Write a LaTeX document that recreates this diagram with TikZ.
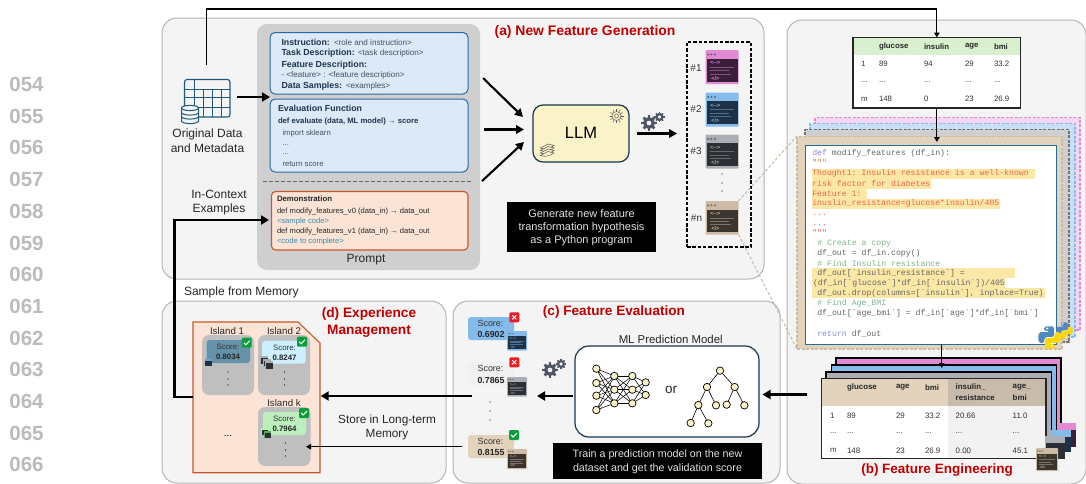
\documentclass[tikz,border=0pt]{standalone}
\usepackage{fontspec}
\setmainfont{Liberation Sans}
\setmonofont{Liberation Mono}
\usetikzlibrary{arrows.meta,calc}
\definecolor{panelfill}{HTML}{F4F4F4}
\definecolor{panelline}{HTML}{B5B5B5}
\definecolor{promptgray}{HTML}{CFCFCF}
\definecolor{boxblue}{HTML}{DCE9F6}
\definecolor{boxblueline}{HTML}{2A6AA3}
\definecolor{boxorange}{HTML}{FBE3D6}
\definecolor{boxorangeline}{HTML}{C55A2B}
\definecolor{navytext}{HTML}{1F3550}
\definecolor{tealtext}{HTML}{3C8CA8}
\definecolor{redtitle}{HTML}{C00000}
\definecolor{llmfill}{HTML}{FAF2C8}
\definecolor{darkline}{HTML}{17374A}
\definecolor{ipink}{HTML}{E28BD4}
\definecolor{iblue}{HTML}{85BBEA}
\definecolor{igray}{HTML}{ABAEB5}
\definecolor{itan}{HTML}{CDBBA5}
\definecolor{dpink}{HTML}{3A1F3B}
\definecolor{dblue}{HTML}{1D3246}
\definecolor{dgray}{HTML}{2C2F33}
\definecolor{dtan}{HTML}{3B3530}
\definecolor{geargray}{HTML}{4F5566}
\definecolor{hilite}{HTML}{FCE8A6}
\definecolor{codered}{HTML}{F0664A}
\definecolor{codekw}{HTML}{8A8AE6}
\definecolor{codegray}{HTML}{666666}
\definecolor{codegreen}{HTML}{7FB58A}
\definecolor{tanfill}{HTML}{E3D3BD}
\definecolor{tanhead}{HTML}{C8BBAB}
\definecolor{tanline}{HTML}{C8B49A}
\definecolor{icondb}{HTML}{1F5A7A}
\definecolor{numgray}{HTML}{BBBBBB}
\definecolor{islandgray}{HTML}{BFBFBF}
\definecolor{okgreen}{HTML}{0B9E3E}
\definecolor{badred}{HTML}{EE1C25}
\definecolor{headgreen}{HTML}{D9F0D0}
\definecolor{cardA}{HTML}{6592A8}
\definecolor{cardB}{HTML}{CDEFFF}
\definecolor{cardC}{HTML}{BDEEBE}
\newcounter{tn}
\tikzset{
  every node/.style={inner sep=0pt,outer sep=0pt},
  fs/.style={font=\fontsize{#1}{#1}\selectfont},
  fb/.style={font=\fontsize{#1}{#1}\selectfont\bfseries},
  fm/.style={font=\fontsize{#1}{#1}\selectfont\ttfamily},
  panel/.style={fill=panelfill,draw=panelline,line width=1pt,rounded corners=15pt},
  tipS/.style={-{Triangle[length=5pt,width=5.5pt]},line width=1.2pt},
  tipM/.style={-{Triangle[length=8pt,width=8.5pt]},line width=2.1pt},
  tipL/.style={-{Triangle[length=8pt,width=9pt]},line width=2.3pt},
  stack/.style={line width=1.2pt,dash pattern=on 3pt off 1.5pt},
  nnode/.style={circle,draw=black,fill=llmfill,line width=.7pt,minimum size=7.4pt},
  blackbox/.style={fill=black},
  tablebox/.style={draw=black!85,line width=1.1pt},
}
\newcommand{\bx}[6]{\node[#6,minimum width={(#4-#2)*1pt},minimum height={(#5-#3)*1pt}] (#1) at ({(#2+#4)/2},{(#3+#5)/2}) {};}
\newcommand{\T}[4][]{\stepcounter{tn}\node[anchor=west,#1] (t\arabic{tn}) at (#2,#3) {#4};}
\newcommand{\C}[4][]{\stepcounter{tn}\node[anchor=center,align=center,#1] (t\arabic{tn}) at (#2,#3) {#4};}
\newcommand{\codeicon}[7]{%
  \bx{#1}{#2}{#3}{#4}{#5}{fill=#6,rounded corners=0.8pt}
  \pgfmathsetmacro\icw{#4-#2}\pgfmathsetmacro\ich{#5-#3}\pgfmathsetmacro\ifs{\ich*0.16}
  \fill[#7] ({#2+0.05*\icw},{#3+0.26*\ich}) rectangle ({#4-0.03*\icw},{#5-0.06*\ich});
  \foreach \dx in {.08,.18,.29}{\fill[#7!55!#6] ({#2+\dx*\icw},{#3+.13*\ich}) circle ({.035*\ich});}
  \foreach \ly/\lw in {.50/.85,.60/.7,.70/.78}{\draw[#6!45!#7,line width=.5pt] ({#2+.15*\icw},{#3+\ly*\ich}) -- ({#2+\lw*\icw},{#3+\ly*\ich});}
  \C[font=\fontsize{\ifs}{\ifs}\selectfont\bfseries,text=#6]{#2+.3*\icw}{#3+.38*\ich}{<{-}{-}>}
  \C[font=\fontsize{\ifs}{\ifs}\selectfont\bfseries,text=#6]{#2+.3*\icw}{#3+.83*\ich}{</>}
}
\newcommand{\miniicon}[7]{%
  \bx{#1}{#2}{#3}{#4}{#5}{fill=#6}
  \pgfmathsetmacro\ich{#5-#3}
  \fill[#7] ({#2+.5},{#3+0.3*\ich}) rectangle ({#4-.5},{#5-.5});
}
\newcommand{\gear}[3]{%
  \draw[geargray,line width={#3*.55pt}] (#1,#2) circle ({#3*.72});
  \foreach \a in {0,45,...,315}{\draw[geargray,line width={#3*.42pt}] ($(#1,#2)+(\a:{#3*.8})$) -- ($(#1,#2)+(\a:{#3*1.28})$);}
}
\newcommand{\badge}[4]{% name x y color
  \node[fill=#4,rounded corners=1.2pt,minimum size=10pt] (#1) at (#2,#3) {};
}
\newcommand{\chk}[3]{\badge{#1}{#2}{#3}{okgreen}\draw[white,line width=1pt] ($(#2,#3)+(-2.8,0)$) -- ($(#2,#3)+(-.8,2)$) -- ($(#2,#3)+(3,-2)$);}
\newcommand{\crs}[3]{\badge{#1}{#2}{#3}{badred}\draw[white,line width=1pt] ($(#2,#3)+(-2,-2)$) -- ($(#2,#3)+(2,2)$) ($(#2,#3)+(-2,2)$) -- ($(#2,#3)+(2,-2)$);}
\newcommand{\vdotsat}[4]{\foreach \yy in {#2,#3,#4}{\fill[black] (#1,\yy) circle (.7);}}
\newcommand{\pyhalf}[1]{\fill[#1,rounded corners=1.6pt] (0.27,0.02)--(0.70,0.02)--(0.70,0.47)--(0.35,0.47)--(0.27,0.55)--(0.27,0.74)--(0.05,0.74)--(0,0.5)--(0.05,0.27)--(0.5,0.27)--(0.5,0.21)--(0.27,0.21)--cycle;}
\newcommand{\pylogo}[3]{\begin{scope}[shift={(#1,#2)},x=#3pt,y=-#3pt]
  \pyhalf{iblue!40!boxblueline}
  \begin{scope}[rotate around={180:(.5,.5)}]\pyhalf{yellow!75!orange}\end{scope}
  \fill[white] (.4,.11) circle (.05) (.6,.89) circle (.05);
\end{scope}}
\begin{document}
\begin{tikzpicture}[x=1pt,y=-1pt]
\useasboundingbox (0,0) rectangle (1086,483);
\fill[white] (0,0) rectangle (1086,483);
% line numbers
\foreach \n [count=\i from 0] in {054,055,056,057,058,059,060,061,062,063,064,065,066}{
  \pgfmathsetmacro\ny{84.5+31.7*\i}
  \C[fb=20.5,text=numgray]{26.5}{\ny}{\n}
}
% panels
\bx{panelA}{162}{18}{764}{279}{panel}
\bx{panelB}{787}{20}{1086}{484}{panel}
\bx{panelD}{162}{301}{446}{483}{panel}
\bx{panelC}{453}{301}{780}{483}{panel}
% ------------- (a)
\bx{prompt}{257}{24}{480}{270}{fill=promptgray,rounded corners=10pt}
\bx{box1}{270}{32.5}{468}{94}{fill=boxblue,draw=boxblueline,line width=1pt,rounded corners=5pt}
\bx{box2}{270}{99}{468}{172}{fill=boxblue,draw=boxblueline,line width=1pt,rounded corners=5pt}
\bx{box3}{271.5}{191.5}{468}{250}{fill=boxorange,draw=boxorangeline,line width=1.1pt,rounded corners=4pt}
\coordinate (dashL) at (263,181); \coordinate (dashR) at (471,181);
\draw[black!60,line width=.6pt,dash pattern=on 3.5pt off 2.5pt] (dashL) -- (dashR);
\T[fb=8.8,text=navytext]{281.5}{42}{Instruction:}
\T[fs=8.1,text=navytext!85]{334}{42.3}{<role and instruction>}
\T[fb=8.8,text=navytext]{281.5}{53}{Task Description:}
\T[fs=8.1,text=navytext!85]{358}{53.3}{<task description>}
\T[fb=8.8,text=navytext]{281.5}{65}{Feature Description:}
\T[fs=8.1,text=navytext!85]{281.5}{75.3}{- <feature> : <feature description>}
\T[fb=8.8,text=navytext]{281.5}{86}{Data Samples:}
\T[fs=8.1,text=navytext!85]{346}{86.3}{<examples>}
\T[fb=8.8,text=navytext]{278}{108}{Evaluation Function}
\T[fb=7.7,text=navytext]{278}{121.5}{def evaluate (data, ML model) → score}
\T[fs=7.7,text=navytext!85]{282.5}{133.5}{import sklearn}
\T[fs=7.7,text=navytext!85]{282.5}{145}{...}
\T[fs=7.7,text=navytext!85]{282.5}{154}{...}
\T[fs=7.7,text=navytext!85]{282.5}{164.5}{return score}
\T[fb=7.8,text=black!85]{277}{199}{Demonstration}
\T[fs=7.6,text=black!85]{277}{211.5}{def modify\_features\_v0 (data\_in) → data\_out}
\T[fs=7.6,text=tealtext]{277}{221.5}{<sample code>}
\T[fs=7.6,text=black!85]{277}{231.5}{def modify\_features\_v1 (data\_in) → data\_out}
\T[fs=7.6,text=tealtext]{277}{241.5}{<code to complete>}
\C[fs=12,text=black!85]{366}{260}{Prompt}
% data icon
\bx{dataicon}{184.5}{79.5}{230}{117}{draw=icondb,line width=1.1pt,rounded corners=2.5pt,fill=panelfill}
\begin{scope}[icondb,line width=1pt]
\draw (194,79.5) -- (194,117);
\draw (184.5,89) -- (230,89) (184.5,97) -- (230,97) (184.5,107) -- (230,107);
\foreach \vx in {203,212,221}{\draw (\vx,89) -- (\vx,117);}
\fill[panelfill] (181,107) rectangle (199,123);
\foreach \cy in {117,112.5}{\draw[fill=panelfill] (181.5,\cy) -- (181.5,\cy+4) arc[start angle=180,end angle=360,x radius=8.5,y radius=-2.6] -- (198.5,\cy);}
\draw[fill=panelfill] (181.5,108) -- (181.5,112.5) arc[start angle=180,end angle=360,x radius=8.5,y radius=-2.6] -- (198.5,108);
\draw[fill=panelfill] (190,108) ellipse (8.5 and 2.6);
\end{scope}
\C[fs=12,text=black!85]{207.5}{134}{Original Data}
\C[fs=12,text=black!85]{207.5}{148.5}{and Metadata}
\C[fs=12,text=black!85]{219}{194}{In-Context}
\C[fs=12,text=black!85]{219}{209}{Examples}
% LLM
\bx{llm}{533}{105}{629}{162}{fill=llmfill,draw=darkline,line width=1.2pt,rounded corners=10pt}
\C[fs=16.5]{581}{133}{LLM}
\begin{scope}[black!65,line width=.5pt]
\draw (616.5,116) circle (4.5) (616.5,116) circle (2);
\foreach \a in {0,30,...,330}{\draw ($(616.5,116)+(\a:4.5)$) -- ($(616.5,116)+(\a:7)$);}
\foreach \sy in {147,149.5,152,154.5}{\draw[fill=llmfill] (540,\sy+1) .. controls (546,\sy+3) and (550,\sy+1) .. (554,\sy-1.5) -- (548,\sy-3) .. controls (545,\sy-1) and (542,\sy) .. (540,\sy+1);}
\end{scope}
\gear{649}{123}{6}
\gear{659.5}{117}{4}
\coordinate (llmOut) at (636.5,133.5); \coordinate (cands) at (677,133.5);
\draw[tipM] (llmOut) -- (cands);
\coordinate (pa) at (483,78); \coordinate (pb) at (484,129.5); \coordinate (pc) at (482,181);
\coordinate (qa) at (523,117); \coordinate (qb) at (524,129.5); \coordinate (qc) at (524,142);
\draw[tipM] (pa) -- (qa);
\draw[tipM] (pb) -- (qb);
\draw[tipM] (pc) -- (qc);
\bx{cdash}{687}{42}{751}{247}{draw=black,line width=1.2pt,dash pattern=on 3.5pt off 1.8pt}
\codeicon{i1}{705.5}{50}{738.5}{84}{ipink}{dpink}
\codeicon{i2}{705.5}{92.5}{738.5}{126.5}{iblue}{dblue}
\codeicon{i3}{705.5}{134.5}{738.5}{168.5}{igray}{dgray}
\codeicon{in}{705.5}{201}{738.5}{234.5}{itan}{dtan}
\C[fs=10,text=black!80]{696}{68}{\#1}
\C[fs=10,text=black!80]{696}{109}{\#2}
\C[fs=10,text=black!80]{696}{151.5}{\#3}
\C[fs=10,text=black!80]{696.5}{218.5}{\#n}
\vdotsat{722}{174}{183}{191}
\bx{blackA}{507}{202}{656}{252}{blackbox}
\C[fs=11,text=white!88!black]{581.5}{213.5}{Generate new feature}
\C[fs=11,text=white!88!black]{581.5}{227.5}{transformation hypothesis}
\C[fs=11,text=white!88!black]{581.5}{240.5}{as a Python program}
\C[fb=13.9,text=redtitle]{585}{31.5}{(a) New Feature Generation}
% arrows in (a) from data
\coordinate (dataOut) at (237,97); \coordinate (promptIn) at (270,97);
\draw[tipL] (dataOut) -- (promptIn);
% dashed zoom lines
\draw[tanline,line width=.9pt,dash pattern=on 3pt off 2pt] (in.north east) -- (797,136);
\draw[tanline,line width=.9pt,dash pattern=on 3pt off 2pt] (in.south east) -- (797,349);
% ------------- (b)
\bx{topt}{853}{37.5}{1020.7}{108}{fill=white}
\fill[headgreen] (853,37.5) rectangle (1020.7,55);
\node[tablebox,minimum width=167.7pt,minimum height=70.5pt] (toptframe) at (topt) {};
\foreach \xx/\tt in {879/glucose,924/insulin,965/age,994/bmi}{\T[fb=7.8,text=black!85]{\xx}{46.3}{\tt}}
\foreach \xx/\tt in {861/1,879/89,924/94,965/29,994/33.2}{\T[fs=7.8,text=black!80]{\xx}{64.3}{\tt}}
\foreach \xx in {861,879,924,965,994}{\T[fs=7.8,text=black!80]{\xx}{82}{...}}
\foreach \xx/\tt in {861/m,879/148,924/0,965/23,994/26.9}{\T[fs=7.8,text=black!80]{\xx}{99.3}{\tt}}
% code stack
\bx{spink}{815}{117.5}{1080}{330}{fill=ipink!35!white,draw=ipink,stack}
\bx{sblue}{810}{123.5}{1075}{337}{fill=iblue!45!white,draw=iblue,stack}
\bx{sgray}{805}{129.5}{1069}{342}{fill=promptgray,draw=black!55,stack}
\bx{stan}{797}{136.5}{1062}{349}{fill=tanfill,draw=itan,stack}
\bx{codew}{805}{145}{1056}{344}{fill=white,draw=boxblueline!70!teal,line width=1pt}
\foreach \ax/\ay/\bxx/\byy in {812/169/1035/179,812/179/931/189,812/189/867/199,812/199/1000/209,812/268/1015/278,812/278/1005/288,812/288/1045/298}{\fill[hilite] (\ax,\ay) rectangle (\bxx,\byy);}
\def\cf{8.2}
\T[fm=\cf,text=codegray]{812.3}{153.7}{\textcolor{codekw}{def} modify\_features (df\_in):}
\T[fm=\cf,text=codered]{812.3}{162.5}{"""}
\T[fm=\cf,text=codered]{812.3}{173.7}{Thought1: Insulin resistance is a well-known}
\T[fm=\cf,text=codered]{812.3}{183.7}{risk factor for diabetes}
\T[fm=\cf,text=codered]{812.3}{193.7}{Feature 1:}
\T[fm=\cf,text=codered]{812.3}{203.7}{inuslin\_resistance=glucose*insulin/405}
\T[fm=\cf,text=codered]{812.3}{215}{...}
\T[fm=\cf,text=codered]{812.3}{225}{...}
\T[fm=\cf,text=codered]{812.3}{232.5}{"""}
\T[fm=\cf,text=codegreen]{817.3}{243.7}{\# Create a copy}
\T[fm=\cf,text=codegray]{817.3}{253.7}{df\_out = df\_in.copy()}
\T[fm=\cf,text=codegreen]{817.3}{263.5}{\# Find Insulin resistance}
\T[fm=\cf,text=codegray]{817.3}{273.5}{df\_out[`insulin\_resistance`] =}
\T[fm=\cf,text=codegray]{813}{283.5}{(df\_in[`glucose`]*df\_in[`insulin`])/405}
\T[fm=\cf,text=codegray]{817.3}{293.5}{df\_out.drop(columns=[`insulin`], inplace=True)}
\T[fm=\cf,text=codegreen]{817.3}{303.5}{\# Find Age\_BMI}
\T[fm=\cf,text=codegray]{817.3}{313.5}{df\_out[`age\_bmi`] = df\_in[`age`]*df\_in[`bmi`]}
\T[fm=\cf,text=codegray]{817.3}{333.5}{\textcolor{codekw}{return} df\_out}
\pylogo{1056}{322}{17}
\pylogo{1038}{326}{23}
% bottom table stack
\bx{tpink}{836}{358}{1061}{426}{fill=ipink,draw=black,line width=1.1pt}
\bx{tblue}{831.5}{365}{1056.5}{433}{fill=iblue,draw=black,line width=1.1pt}
\bx{tgray}{826}{372}{1051.5}{438}{fill=igray,draw=black,line width=1.1pt}
\miniicon{sp}{1057}{423}{1076}{447}{ipink}{dpink}
\miniicon{sb}{1051}{430}{1071}{452}{iblue}{dblue}
\bx{tfront}{821.5}{378.7}{1046}{458.7}{fill=white}
\fill[tanfill] (821.5,378.7) rectangle (948,405.7);
\fill[tanhead] (948,378.7) rectangle (1046,405.7);
\fill[black!5] (948,405.7) rectangle (1046,458.7);
\node[tablebox,minimum width=224.5pt,minimum height=80pt] (tframe) at (tfront) {};
\miniicon{sg}{1045}{436}{1065}{459}{igray}{dgray}
\codeicon{st}{1036}{448}{1058}{471}{itan}{dtan}
\foreach \xx/\tt in {847/glucose,896/age,925/bmi,955.7/insulin\_,1012.7/age\_}{\T[fb=7.9,text=black!85]{\xx}{387.5}{\tt}}
\foreach \xx/\tt in {955.7/resistance,1012.7/bmi}{\T[fb=7.9,text=black!85]{\xx}{397.5}{\tt}}
\foreach \xx/\tt in {830/1,847/89,896/29,925/33.2,955.7/20.66,1012.7/11.0}{\T[fs=7.9,text=black!80]{\xx}{415.5}{\tt}}
\foreach \xx in {830,847,896,925,955.7,1012.7}{\T[fs=7.9,text=black!80]{\xx}{433}{...}}
\foreach \xx/\tt in {830/m,847/148,896/23,925/26.9,955.7/0.00,1012.7/45.1}{\T[fs=7.9,text=black!80]{\xx}{450.5}{\tt}}
\C[fb=13.5,text=redtitle]{937}{470}{(b) Feature Engineering}
% top connectors
\coordinate (dataUp) at (206.7,65);
\draw[tipS] (dataUp) -- ++(0,-56) -| (topt.north);
\draw[tipS,shorten >=3pt] (topt.south) -- (topt.south |- codew.north);
\coordinate (codeOut) at (941.7,344); \coordinate (tablesIn) at (941.7,368);
\draw[tipS] (codeOut) -- (tablesIn);
% ------------- (c)
\C[fb=13.6,text=redtitle]{614}{311.7}{(c) Feature Evaluation}
\bx{ml}{575}{346}{759}{437}{fill=white,draw=darkline,line width=1.2pt,rounded corners=14pt}
\C[fs=11.4,text=black!85]{670.7}{339}{ML Prediction Model}
\C[fs=13.5,text=black!85]{671}{390}{or}
% neural net
\foreach \nm/\zx/\zy in {a1/439/221,a2/439/264,a3/439/302,a4/439/345,b1/493/243,b2/493/284,b3/493/325,c1/547/243,c2/547/284,c3/547/325,d1/587/262,d2/587/300}{
  \node[nnode] (\nm) at ({450+\zx/3},{295+\zy/3}) {};}
\foreach \u in {a1,a2,a3,a4}{\foreach \v in {b1,b2,b3}{\draw[black,line width=.55pt] (\u) -- (\v);}}
\foreach \u in {b1,b2,b3}{\foreach \v in {c1,c2,c3}{\draw[black,line width=.55pt] (\u) -- (\v);}}
\foreach \u in {c1,c2,c3}{\foreach \v in {d1,d2}{\draw[black,line width=.55pt] (\u) -- (\v);}}
% tree
\foreach \nm/\zx/\zy in {r/810/227,l/771/276,m/854/276,ll/745/330,lr/798/331,ml/830/329,mr/883/331,lll/722/384,llr/775/385}{
  \node[nnode] (\nm) at ({450+\zx/3},{295+\zy/3}) {};}
\foreach \u/\v in {r/l,r/m,l/ll,l/lr,m/ml,m/mr,ll/lll,ll/llr}{\draw[black,line width=.6pt] (\u) -- (\v);}
\bx{blackC}{553}{443}{762}{479}{blackbox}
\C[fs=10.7,text=white!88!black]{657.5}{454.5}{Train a prediction model on the new}
\C[fs=10.7,text=white!88!black]{657.5}{468.5}{dataset and get the validation score}
\gear{550}{370}{6}
\gear{561}{364}{4}
% score cards
\bx{sc1}{468}{317}{514}{340}{fill=iblue,rounded corners=3pt}
\bx{sc2}{468}{362}{514}{385}{fill=black!6,rounded corners=3pt}
\bx{sc3}{468}{435}{514}{458}{fill=tanfill,rounded corners=3pt}
\C[fs=8.9,text=black!80]{490.5}{323}{Score:}
\C[fb=8.8,text=black!85]{491}{334}{0.6902}
\C[fs=8.9,text=black!80]{490.5}{368}{Score:}
\C[fb=8.8,text=black!85]{491}{380}{0.7865}
\C[fs=8.9,text=black!80]{490.5}{441}{Score:}
\C[fb=8.8,text=black!85]{491}{452}{0.8155}
\codeicon{e1}{507}{331}{527}{350.5}{iblue}{dblue}
\codeicon{e2}{507}{377}{527}{396.5}{igray}{dgray}
\codeicon{e3}{507}{449}{527}{469}{itan}{dtan}
\crs{x1}{514.3}{317.3}
\crs{x2}{514.3}{362.3}
\chk{v3}{514}{435}
\vdotsat{490}{402}{411}{420}
\coordinate (mlOut) at (573,396); \coordinate (scoresIn) at (537,396);
\draw[tipL] (mlOut) -- (scoresIn);
\coordinate (tablesOut) at (807,394.5);
\coordinate (mlIn) at (762.5,394.5);
\draw[tipL] (tablesOut) -- (mlIn);
% ------------- (d)
\C[fb=13.7,text=redtitle]{369}{314}{(d) Experience}
\C[fb=13.7,text=redtitle]{369}{331.5}{Management}
\draw[fill=boxorange,draw=boxorangeline,line width=1.1pt] (193,322) -- (298,322) -- (320,343) -- (320,472.7) -- (193,472.7) -- cycle;
\coordinate (memL) at (193,397);
\coordinate (memIn) at (320.7,396);
\coordinate (scoreOut) at (471.7,396);
\bx{is1}{202}{335}{254}{395}{fill=islandgray,rounded corners=7pt}
\bx{is2}{258}{335}{310}{395}{fill=islandgray,rounded corners=7pt}
\bx{isk}{258}{407}{310.5}{466}{fill=islandgray,rounded corners=7pt}
\C[fs=9.7,text=black!85]{227}{331}{Island 1}
\C[fs=9.7,text=black!85]{284}{331}{Island 2}
\C[fs=9.7,text=black!85]{284}{403}{Island k}
\bx{c1x}{206.5}{340}{250}{363}{fill=cardA,rounded corners=3pt}
\bx{c2x}{262}{340.7}{305.7}{363.7}{fill=cardB,rounded corners=3pt}
\bx{c3x}{263}{412}{306}{435}{fill=cardC,rounded corners=3pt}
\C[fs=7.8,text=black!80]{228}{346.5}{Score:}
\C[fb=7.8,text=black!85]{228}{356.5}{0.8034}
\C[fs=7.8,text=black!80]{284.5}{347.5}{Score:}
\C[fb=7.8,text=black!85]{284.5}{357.5}{0.8247}
\C[fs=7.8,text=black!80]{284.5}{418.5}{Score:}
\C[fb=7.8,text=black!85]{284.5}{428.5}{0.7964}
\chk{vi1}{246.7}{342.7}
\chk{vi2}{302}{341.7}
\chk{vik}{304}{413}
\miniicon{m1}{204.5}{359}{212}{366}{iblue!80!darkline}{dblue}
\miniicon{m2a}{260}{356}{268}{364}{igray}{dgray}
\miniicon{m2b}{263}{358.5}{271}{366.5}{igray}{dgray}
\miniicon{m2c}{265}{361}{273}{369}{igray}{dgray}
\miniicon{m3a}{261}{428}{268}{435}{green!35!white}{dgray}
\miniicon{m3b}{264}{431}{271}{438}{green!35!gray}{dgray}
\vdotsat{228}{372}{379}{385}
\vdotsat{284.5}{372}{379}{385}
\vdotsat{285.5}{443}{450}{456}
\C[fs=10]{228}{436}{...}
\C[fs=11.8,text=black!85]{387}{420}{Store in Long-term}
\C[fs=11.8,text=black!85]{387}{435}{Memory}
\T[fs=12,text=black!85]{184}{292}{Sample from Memory}
\draw[tipL] (scoreOut) -- (memIn);
\coordinate (evalOut) at (461.7,446.7); \coordinate (islandIn) at (306,446.7);
\draw[tipS] (evalOut) -- (islandIn);
\coordinate (promptDemo) at (269,220);
\draw[tipL,line width=2.5pt] (memL) -- (174.7,397) -- (174.7,220) -- (promptDemo);
\end{tikzpicture}
\end{document}
